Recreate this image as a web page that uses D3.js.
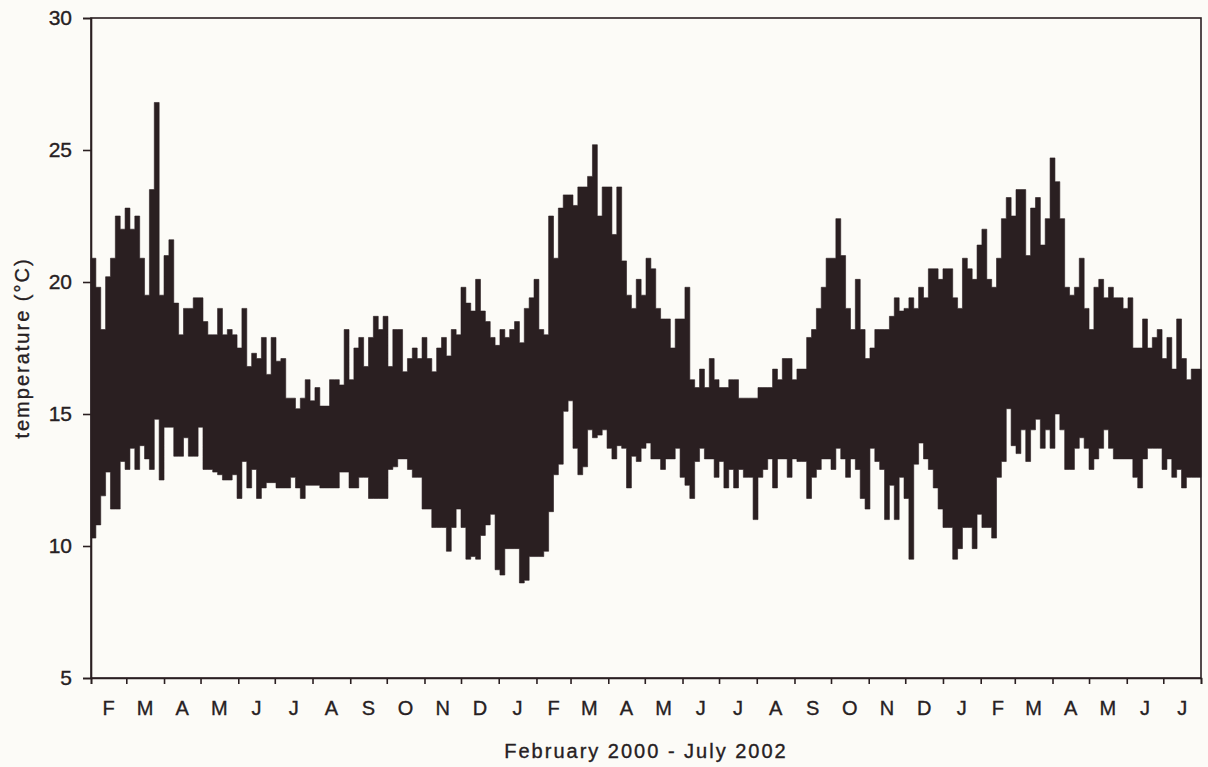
<!DOCTYPE html>
<html>
<head>
<meta charset="utf-8">
<script src="https://cdn.jsdelivr.net/npm/d3@7"></script>
<style>
  html, body { margin: 0; padding: 0; background: #fcfbf7; }
  svg { display: block; }
  text { font-family: "Liberation Sans", Arial, sans-serif; fill: #262022; stroke: #262022; stroke-width: 0.35px; }
</style>
</head>
<body>
<svg id="chart" width="1208" height="767"></svg>
<script>
// ---- data (4-day bins, starting 1 Feb 2000; max and min temperature per bin, °C) ----
const startDate = new Date(2000, 1, 1);
const endDate = new Date(2002, 7, 1);
const stepDays = 4;

const highs = [
  20.9, 19.8, 18.2, 20.2, 20.9, 22.5, 22.0, 22.8, 22.0, 22.5, 20.9, 19.5, 23.5, 26.8, 19.5, 21.0, 21.6, 19.2, 18.0, 19.0,
  19.0, 19.4, 19.4, 18.5, 18.0, 18.0, 19.0, 18.0, 18.2, 18.0, 17.5, 19.0, 16.8, 17.3, 17.1, 17.9, 16.5, 17.9,
  17.0, 17.1, 15.6, 15.6, 15.2, 15.6, 16.3, 15.5, 16.0, 15.3, 15.3, 16.3, 16.3, 16.1, 18.2, 16.3, 17.5, 17.9, 16.8, 17.9,
  18.7, 18.2, 18.7, 16.8, 18.2, 18.2, 16.6, 17.1, 17.5, 17.1, 17.9, 17.1, 16.6, 17.5, 17.9, 17.2, 18.2, 18.0,
  19.8, 19.2, 18.9, 20.1, 18.9, 18.5, 17.9, 17.6, 18.2, 17.9, 18.2, 18.5, 17.7, 19.0, 19.4, 20.1, 18.2, 18.0, 22.5, 20.9,
  22.8, 23.3, 23.3, 22.9, 23.6, 23.6, 24.0, 25.2, 22.5, 23.6, 23.6, 21.8, 23.6, 20.8, 19.5, 19.0, 20.1, 19.5,
  20.9, 20.5, 19.0, 18.6, 18.6, 17.5, 18.6, 18.6, 19.8, 16.3, 16.0, 16.7, 16.0, 17.1, 16.3, 16.0, 16.0, 16.3, 16.3, 15.6,
  15.6, 15.6, 15.6, 16.0, 16.0, 16.0, 16.7, 16.3, 17.1, 17.1, 16.3, 16.7, 16.7, 17.9, 18.2, 19.0, 19.8, 20.9,
  20.9, 22.4, 21.0, 19.0, 18.2, 20.1, 18.2, 17.1, 17.5, 18.2, 18.2, 18.2, 18.7, 19.4, 18.9, 19.0, 19.4, 19.0, 19.8, 19.4,
  20.5, 20.5, 20.1, 20.5, 20.5, 19.4, 19.0, 20.9, 20.5, 20.1, 21.4, 22.0, 20.1, 19.8, 20.9, 22.4, 23.2, 22.5,
  23.5, 23.5, 21.0, 22.8, 23.2, 21.4, 22.4, 24.7, 23.8, 22.4, 19.8, 19.5, 19.8, 20.9, 19.0, 18.2, 19.8, 20.1, 19.4, 19.8,
  19.4, 19.4, 19.0, 19.4, 17.5, 17.5, 18.6, 17.5, 17.9, 18.2, 17.1, 17.9, 16.7, 18.6, 17.1, 16.3, 16.7, 16.7
];

const lows = [
  10.3, 10.8, 11.9, 12.8, 11.4, 11.4, 13.2, 12.9, 13.7, 12.9, 13.8, 13.3, 12.9, 14.8, 12.5, 14.5, 14.5, 13.4, 13.4, 14.1,
  13.4, 13.4, 14.5, 12.9, 12.9, 12.8, 12.7, 12.5, 12.5, 12.7, 11.8, 13.2, 12.2, 12.9, 11.8, 12.2, 12.4, 12.4,
  12.2, 12.2, 12.2, 12.6, 12.2, 11.8, 12.3, 12.3, 12.3, 12.2, 12.2, 12.2, 12.2, 12.8, 12.8, 12.2, 12.2, 12.6, 12.6, 11.8,
  11.8, 11.8, 11.8, 12.9, 13.0, 13.3, 13.3, 12.9, 12.6, 12.6, 11.4, 11.4, 10.7, 10.7, 10.7, 9.8, 10.7, 11.4,
  10.7, 9.5, 9.6, 9.5, 10.4, 10.8, 11.2, 9.1, 8.9, 9.9, 9.9, 9.9, 8.6, 8.7, 9.6, 9.6, 9.6, 9.8, 11.3, 12.7,
  13.1, 15.1, 15.5, 13.7, 12.7, 13.0, 14.4, 14.1, 14.2, 14.4, 13.7, 13.3, 13.8, 13.7, 12.2, 13.4, 13.2, 13.7,
  13.9, 13.3, 13.3, 12.9, 13.3, 13.3, 13.7, 12.6, 12.3, 11.8, 13.2, 13.7, 13.3, 13.3, 12.6, 13.2, 12.2, 12.9, 12.2, 12.9,
  12.6, 12.6, 11.0, 12.6, 12.9, 13.3, 12.2, 13.3, 13.3, 12.6, 13.3, 13.2, 13.2, 11.8, 12.6, 12.9, 13.3, 13.3,
  12.9, 13.7, 13.3, 12.6, 13.3, 12.9, 11.8, 11.4, 13.7, 13.2, 12.9, 11.0, 12.3, 11.0, 12.6, 11.8, 9.5, 13.1, 13.9, 13.3,
  12.9, 12.2, 11.4, 10.7, 10.7, 9.5, 9.9, 10.7, 10.7, 9.9, 11.2, 10.7, 10.7, 10.3, 12.6, 13.2, 15.2, 13.8,
  13.5, 14.4, 13.2, 14.4, 14.8, 13.7, 14.4, 13.7, 15.0, 14.4, 12.9, 12.9, 13.7, 14.1, 13.7, 12.9, 13.3, 13.7, 14.4, 13.7,
  13.3, 13.3, 13.3, 13.3, 12.6, 12.2, 13.3, 13.7, 13.7, 13.7, 12.9, 13.3, 12.6, 12.9, 12.2, 12.6, 12.6, 12.6
];

const monthLabels = ["F","M","A","M","J","J","A","S","O","N","D","J","F","M","A","M","J","J","A","S","O","N","D","J","F","M","A","M","J","J"];
const yTicks = [5, 10, 15, 20, 25, 30];
const xTitle = "February 2000 - July 2002";
const yTitle = "temperature (°C)";

// ---- layout ----
const margin = { left: 91, top: 18, right: 7, bottom: 89 };
const W = 1208, H = 767;
const innerW = W - margin.left - margin.right;
const innerH = H - margin.top - margin.bottom;
const ink = "#2a1f21";
const fontSize = 20;

const svg = d3.select("#chart");
svg.append("rect").attr("width", W).attr("height", H).attr("fill", "#fcfbf7");
const g = svg.append("g").attr("transform", `translate(${margin.left},${margin.top})`);

const x = d3.scaleTime().domain([startDate, endDate]).range([0, innerW]);
const y = d3.scaleLinear().domain([5, 30]).range([innerH, 0]);

// data points
const pts = highs.map((h, i) => ({ date: d3.timeDay.offset(startDate, i * stepDays), hi: h, lo: lows[i] }));
pts.push({ date: endDate, hi: highs[highs.length - 1], lo: lows[lows.length - 1] });

const area = d3.area()
  .curve(d3.curveStepAfter)
  .x(d => x(d.date))
  .y0(d => y(d.lo))
  .y1(d => y(d.hi));

g.append("path").datum(pts)
  .attr("d", area)
  .attr("fill", ink)
  .attr("stroke", ink)
  .attr("stroke-width", 0.6);

// frame
g.append("rect")
  .attr("x", 0).attr("y", 0).attr("width", innerW).attr("height", innerH)
  .attr("fill", "none").attr("stroke", ink).attr("stroke-width", 1.6);

// y axis
const yAxis = d3.axisLeft(y).tickValues(yTicks).tickSize(8).tickPadding(11).tickFormat(d3.format("d"));
const ya = g.append("g").call(yAxis);
ya.select(".domain").attr("stroke", ink).attr("stroke-width", 1.6);
ya.selectAll(".tick line").attr("stroke", ink).attr("stroke-width", 1.6);
ya.selectAll(".tick text").attr("font-size", 21).attr("fill", "#262022")
  .style("font-family", "Liberation Sans, Arial, sans-serif");

// x axis: ticks at month boundaries, labels centred in each month
const monthStarts = d3.timeMonth.range(startDate, endDate);
const boundaries = monthStarts.concat([endDate]);
const xAxis = d3.axisBottom(x).tickValues(boundaries).tickSize(6).tickFormat("");
const xa = g.append("g").attr("transform", `translate(0,${innerH})`).call(xAxis);
xa.select(".domain").attr("stroke", ink).attr("stroke-width", 1.6);
xa.selectAll(".tick line").attr("stroke", ink).attr("stroke-width", 1.6);

g.append("g").selectAll("text")
  .data(monthStarts)
  .join("text")
  .attr("x", (d, i) => (x(d) + x(boundaries[i + 1])) / 2)
  .attr("y", innerH + 37)
  .attr("text-anchor", "middle")
  .attr("font-size", fontSize)
  .text((d, i) => monthLabels[i]);

// titles
svg.append("text")
  .attr("x", margin.left + innerW / 2)
  .attr("y", 758)
  .attr("text-anchor", "middle")
  .attr("font-size", fontSize)
  .attr("letter-spacing", 2)
  .text(xTitle);

svg.append("text")
  .attr("transform", `translate(29,${margin.top + innerH / 2}) rotate(-90)`)
  .attr("text-anchor", "middle")
  .attr("font-size", fontSize)
  .attr("letter-spacing", 2)
  .text(yTitle);
</script>
</body>
</html>
